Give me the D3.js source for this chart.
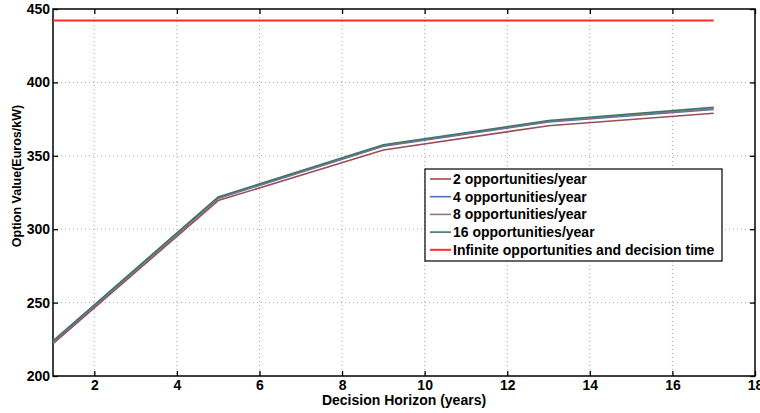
<!DOCTYPE html>
<html>
<head>
<meta charset="utf-8">
<script src="https://cdn.jsdelivr.net/npm/d3@7"></script>
<style>
  body { margin: 0; background: #fff; }
  text { font-family: "Liberation Sans", Arial, sans-serif; font-weight: bold; }
</style>
</head>
<body>
<div id="chart"></div>
<script>
// data
var horizons = [1, 5, 9, 13, 17];
var opp2  = [222, 319.5, 354, 370.5, 379];
var opp4  = [223, 321, 356.5, 373, 381.5];
var opp8  = [223.5, 321.5, 357, 373.5, 382];
var opp16 = [224, 322, 357.5, 374, 383];
var infiniteValue = 442.2;
var xTicks = [2, 4, 6, 8, 10, 12, 14, 16, 18];
var yTicks = [200, 250, 300, 350, 400, 450];
var seriesNames = ["2 opportunities/year", "4 opportunities/year", "8 opportunities/year",
                   "16 opportunities/year", "Infinite opportunities and decision time"];

var W = 760, H = 413;
var margin = {top: 9, right: 5, bottom: 37, left: 53};
var width = W - margin.left - margin.right,
    height = H - margin.top - margin.bottom;

var svg = d3.select("#chart").append("svg")
    .attr("width", W).attr("height", H)
  .append("g")
    .attr("transform", "translate(" + margin.left + "," + margin.top + ")");

var x = d3.scaleLinear().domain([1, 18]).range([0, width]);
var y = d3.scaleLinear().domain([200, 450]).range([height, 0]);

// grid
svg.append("g").selectAll("line").data(xTicks.slice(0, -1)).enter().append("line")
    .attr("x1", d => x(d)).attr("x2", d => x(d))
    .attr("y1", 0).attr("y2", height)
    .attr("stroke", "#aaa").attr("stroke-width", 1).attr("stroke-dasharray", "1,3");
svg.append("g").selectAll("line").data(yTicks.slice(1, -1)).enter().append("line")
    .attr("x1", 0).attr("x2", width)
    .attr("y1", d => y(d)).attr("y2", d => y(d))
    .attr("stroke", "#aaa").attr("stroke-width", 1).attr("stroke-dasharray", "1,3");

// axes, ticks pointing inward
var xAxis = svg.append("g")
    .attr("transform", "translate(0," + height + ")")
    .call(d3.axisBottom(x).tickValues(xTicks).tickSize(-5).tickPadding(4));
var xTop = svg.append("g")
    .call(d3.axisTop(x).tickValues(xTicks).tickSize(-5).tickFormat(""));
var yAxis = svg.append("g")
    .call(d3.axisLeft(y).tickValues(yTicks).tickSize(-5).tickPadding(3));
var yRight = svg.append("g")
    .attr("transform", "translate(" + width + ",0)")
    .call(d3.axisRight(y).tickValues(yTicks).tickSize(-5).tickFormat(""));

[xAxis, xTop, yAxis, yRight].forEach(function(a) {
  a.select(".domain").remove();
  a.selectAll(".tick line").attr("stroke", "#000").attr("stroke-width", 1.3);
  a.selectAll("text").attr("font-size", 14).attr("fill", "#000")
    .style("font-family", "'Liberation Sans', Arial, sans-serif").style("font-weight", "bold");
});

svg.append("rect")
    .attr("width", width).attr("height", height)
    .attr("fill", "none").attr("stroke", "#000").attr("stroke-width", 1.5);

// lines
var line = d3.line().x((d, i) => x(horizons[i])).y(d => y(d));
var colors = ["#9c4e52", "#5570b0", "#8d6f90", "#3d7a5c", "#ff2a2a"];
[opp2, opp4, opp8, opp16].forEach(function(s, i) {
  svg.append("path").datum(s)
    .attr("d", line)
    .attr("fill", "none")
    .attr("stroke", colors[i])
    .attr("stroke-width", 1.6);
});
svg.append("line")
    .attr("x1", x(horizons[0])).attr("x2", x(horizons[horizons.length - 1]))
    .attr("y1", y(infiniteValue)).attr("y2", y(infiniteValue))
    .attr("stroke", colors[4]).attr("stroke-width", 2);

// axis labels
svg.append("text")
    .attr("x", width / 2).attr("y", height + 29)
    .attr("text-anchor", "middle").attr("font-size", 14)
    .text("Decision Horizon (years)");
svg.append("text")
    .attr("transform", "rotate(-90)")
    .attr("x", -(176 - margin.top)).attr("y", -32)
    .attr("text-anchor", "middle").attr("font-size", 12.5)
    .text("Option Value(Euros/kW)");

// legend
var lg = svg.append("g").attr("transform", "translate(" + (425 - margin.left) + "," + (169 - margin.top) + ")");
lg.append("rect").attr("width", 297).attr("height", 92)
    .attr("fill", "#fff").attr("stroke", "#000").attr("stroke-width", 1.2);
seriesNames.forEach(function(n, i) {
  var yy = 10 + i * 17.7;
  lg.append("line").attr("x1", 5).attr("x2", 26).attr("y1", yy).attr("y2", yy)
    .attr("stroke", colors[i]).attr("stroke-width", i == 4 ? 2 : 1.6);
  lg.append("text").attr("x", 28).attr("y", yy + 5)
    .attr("font-size", 14).text(n);
});
</script>
</body>
</html>
